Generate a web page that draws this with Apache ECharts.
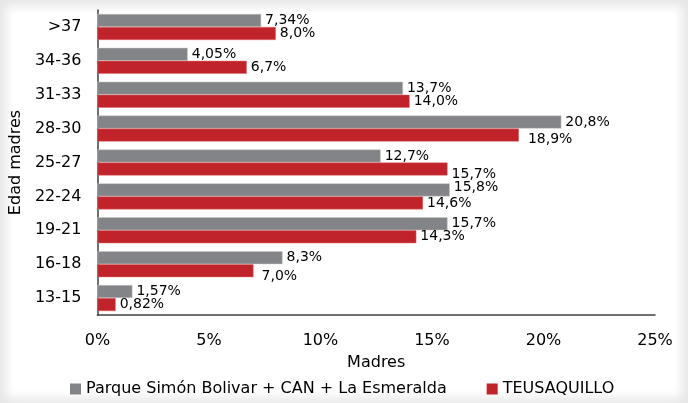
<!DOCTYPE html>
<html>
<head>
<meta charset="utf-8">
<script src="https://cdn.jsdelivr.net/npm/echarts@6/dist/echarts.min.js"></script>
<style>
  html, body { margin: 0; padding: 0; background: #e6e6e6; }
  #panel { position: absolute; left: 14px; top: 14px; width: 660px; height: 376px;
           background: #fff; box-shadow: 0 0 10px 8px #fff; }
  #main { position: absolute; left: 0; top: 0; width: 688px; height: 403px; }
</style>
</head>
<body>
<div id="panel"></div>
<div id="main"></div>
<script>
var categorias = ['>37', '34-36', '31-33', '28-30', '25-27', '22-24', '19-21', '16-18', '13-15'];
var parque = [7.34, 4.05, 13.7, 20.8, 12.7, 15.8, 15.7, 8.3, 1.57];
var parqueTxt = ['7,34%', '4,05%', '13,7%', '20,8%', '12,7%', '15,8%', '15,7%', '8,3%', '1,57%'];
var teusa = [8.0, 6.7, 14.0, 18.9, 15.7, 14.6, 14.3, 7.0, 0.82];
var teusaTxt = ['8,0%', '6,7%', '14,0%', '18,9%', '15,7%', '14,6%', '14,3%', '7,0%', '0,82%'];

var fuente = 'DejaVu Sans';

// desplazamientos de etiquetas como en el original (Excel las corre para no chocar)
var despParque = { 5: [0, -3] };
var despTeusa = { 3: [5, 4], 4: [0, 5], 7: [4, 6] };

function conEtiquetas(valores, desp) {
    return valores.map(function (v, i) {
        if (desp[i]) return { value: v, label: { offset: desp[i] } };
        return v;
    });
}

var chart = echarts.init(document.getElementById('main'));
chart.setOption({
    color: ['#838487', '#c0232a'],
    textStyle: { fontFamily: fuente },
    grid: {
        left: 97,
        right: 33,
        top: 10,
        bottom: 88
    },
    legend: {
        bottom: 1,
        left: 65,
        icon: 'rect',
        itemWidth: 11,
        itemHeight: 11,
        itemGap: 40,
        itemStyle: { borderWidth: 0 },
        textStyle: { fontFamily: fuente, fontSize: 16, color: '#000' },
        data: ['Parque Simón Bolivar + CAN + La Esmeralda', 'TEUSAQUILLO']
    },
    xAxis: {
        type: 'value',
        min: 0,
        max: 25,
        interval: 5,
        name: 'Madres',
        nameLocation: 'middle',
        nameGap: 40,
        nameTextStyle: { fontFamily: fuente, fontSize: 16, color: '#000' },
        axisLine: { show: true, lineStyle: { color: '#404040', width: 1.5 } },
        axisTick: { show: false },
        splitLine: { show: false },
        axisLabel: {
            formatter: '{value}%',
            margin: 18,
            fontFamily: fuente,
            fontSize: 16,
            color: '#000'
        }
    },
    yAxis: {
        type: 'category',
        inverse: true,
        data: categorias,
        name: 'Edad madres',
        nameLocation: 'middle',
        nameGap: 62,
        nameTextStyle: { fontFamily: fuente, fontSize: 16, color: '#000' },
        axisLine: { show: true, lineStyle: { color: '#404040', width: 1.5 } },
        axisTick: { show: false },
        axisLabel: { margin: 16, fontFamily: fuente, fontSize: 16, color: '#000' }
    },
    series: [
        {
            name: 'Parque Simón Bolivar + CAN + La Esmeralda',
            type: 'bar',
            barWidth: 13,
            barGap: '0%',
            data: conEtiquetas(parque, despParque),
            itemStyle: { borderColor: '#c8c8c8', borderWidth: 0.5 },
            label: {
                show: true,
                position: 'right',
                distance: 4,
                fontFamily: fuente,
                fontSize: 14,
                color: '#000',
                formatter: function (p) { return parqueTxt[p.dataIndex]; }
            }
        },
        {
            name: 'TEUSAQUILLO',
            type: 'bar',
            barWidth: 13,
            barGap: '0%',
            data: conEtiquetas(teusa, despTeusa),
            itemStyle: { borderColor: '#e07070', borderWidth: 0.5 },
            label: {
                show: true,
                position: 'right',
                distance: 4,
                fontFamily: fuente,
                fontSize: 14,
                color: '#000',
                formatter: function (p) { return teusaTxt[p.dataIndex]; }
            }
        }
    ]
});
</script>
</body>
</html>
